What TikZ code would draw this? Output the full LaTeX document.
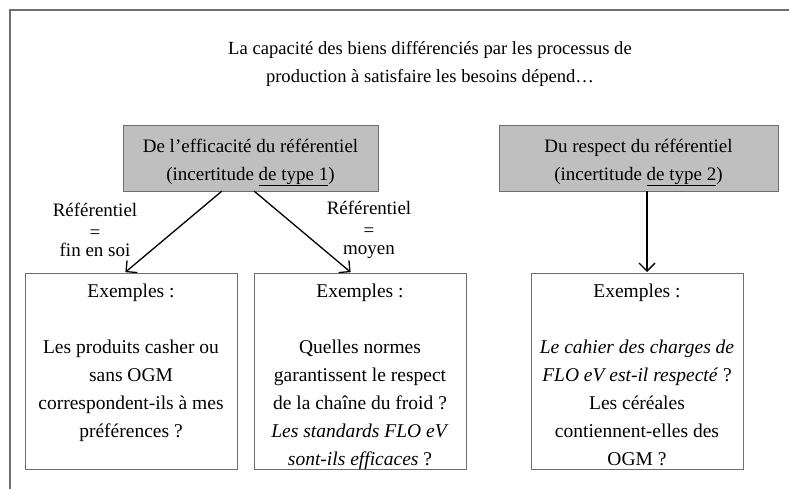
\documentclass[tikz,border=0pt]{standalone}
\usepackage{fontspec}
\setmainfont{Liberation Serif}
\usetikzlibrary{arrows.meta}
\definecolor{boxgrey}{HTML}{BFBFBF}
\definecolor{edgegrey}{HTML}{6E6E6E}
\newcommand\mytightlines{\lineskiplimit=-50pt\relax}
\tikzset{
  frameline/.style={draw=edgegrey, line width=1.2pt},
  headbox/.style={draw=edgegrey, line width=1pt, fill=boxgrey, minimum width=#1, minimum height=65pt, inner sep=0pt},
  headtext/.style={align=center, inner sep=0pt, font=\fontsize{19}{28}\selectfont},
  exbox/.style={draw=edgegrey, line width=1pt, minimum width=212pt, minimum height=196pt, inner sep=0pt},
  extext/.style={anchor=north, align=center, font=\fontsize{19.5}{28}\selectfont, inner sep=0pt},
  lbl/.style={align=center, font=\fontsize{19}{18.5}\selectfont\mytightlines, inner sep=0pt},
  conn/.style={draw=black, line width=1.3pt, -{Straight Barb[length=8pt,width=16pt,line width=1.3pt]}, shorten >=0.5pt}
}
\begin{document}
\begin{tikzpicture}[x=1pt,y=-1pt]
\useasboundingbox (0,0) rectangle (789,489);
\draw[frameline] (10,489) -- (10,10) -- (789,10);
\node[align=center, font=\fontsize{18.6}{28}\selectfont, inner sep=0pt] (intro) at (430,64)
  {La capacité des biens différenciés par les processus de\\production à satisfaire les besoins dépend\ldots};
\node[headbox=255pt] (h1) at (250.5,158.5) {};
\node[headbox=279pt] (h2) at (638.5,158.5) {};
\node[headtext] (h1t) at ([yshift=-4pt]h1.center) {De l’efficacité du référentiel\\(incertitude \underline{de type 1})};
\node[headtext] (h2t) at ([yshift=-4pt]h2.center) {Du respect du référentiel\\(incertitude \underline{de type 2})};
\node[exbox] (ea) at (131,371) {};
\node[exbox] (eb) at (360,371) {};
\node[exbox] (ec) at (637,371) {};
\node[extext] (ta) at ([yshift=-11pt]ea.north) {Exemples :\\[28pt]Les produits casher ou\\sans OGM\\correspondent-ils à mes\\préférences ?};
\node[extext] (tb) at ([yshift=-11pt]eb.north) {Exemples :\\[28pt]Quelles normes\\garantissent le respect\\de la chaîne du froid ?\\\textit{Les standards FLO eV}\\\textit{sont-ils efficaces} ?};
\node[extext] (tc) at ([yshift=-11pt]ec.north) {Exemples :\\[28pt]\textit{Le cahier des charges de}\\\textit{FLO eV est-il respecté} ?\\Les céréales\\contiennent-elles des\\OGM ?};
\node[lbl] (la) at (95,230) {Référentiel\\[3pt]=\\fin en soi};
\node[lbl] (lb) at (369,230) {Référentiel\\[3pt]=\\moyen};
\coordinate (s1) at (222,191);
\coordinate (s2) at (254,191);
\coordinate (s3) at (647,191);
\draw[conn] (s1) -- (ea.north -| 125,0);
\draw[conn] (s2) -- (eb.north -| 351,0);
\draw[conn] (s3) -- (ec.north -| 647,0);
\end{tikzpicture}
\end{document}
